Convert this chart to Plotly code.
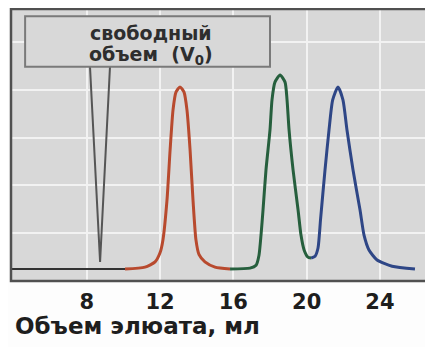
import plotly.graph_objects as go

# ---- data ----
x_ticks = [8, 12, 16, 20, 24]
tick_labels = ["8", "12", "16", "20", "24"]

base_x = [3.9, 10.09]
base_y = [0.25, 0.25]

v0_x = [8.18, 8.73, 9.27]
v0_y = [4.48, 0.40, 4.48]

red_x = [10.09, 11.18, 11.73, 12.00, 12.16, 12.38, 12.55, 12.71, 12.87, 13.09,
         13.31, 13.47, 13.64, 13.80, 13.96, 14.13, 14.45, 15.00, 15.82]
red_y = [0.25, 0.29, 0.40, 0.59, 0.86, 1.69, 2.74, 3.58, 3.95, 4.06,
         3.95, 3.58, 2.74, 1.69, 0.86, 0.55, 0.40, 0.29, 0.25]

green_x = [15.82, 16.91, 17.24, 17.40, 17.51, 17.62, 17.78, 18.00, 18.11, 18.27,
           18.55, 18.82, 18.93, 19.04, 19.26, 19.53, 19.69, 19.86, 20.07, 20.24]
green_y = [0.25, 0.27, 0.33, 0.54, 0.96, 1.49, 2.32, 3.16, 3.79, 4.16,
           4.31, 4.16, 3.79, 3.16, 2.32, 1.49, 0.96, 0.65, 0.50, 0.48]

blue_x = [20.24, 20.46, 20.62, 20.76, 21.00, 21.22, 21.42, 21.71, 21.98,
          22.20, 22.53, 22.91, 23.13, 23.40, 23.84, 24.66, 25.91]
blue_y = [0.48, 0.52, 0.69, 1.30, 2.32, 3.16, 3.79, 4.06, 3.79,
          3.16, 2.32, 1.49, 0.96, 0.65, 0.44, 0.31, 0.25]

label_line1 = "свободный"
label_line2 = "объем  (V<sub>0</sub>)"
x_title = "Объем элюата, мл"

# the page body adds an 8px offset; the figure is sized to fill the window after it
W, H = 425, 339
ML, MR, MT, MB = 3, 5, 1, 66

fig = go.Figure()
fig.add_trace(go.Scatter(x=base_x, y=base_y, mode="lines",
                         line=dict(color="#333333", width=2), hoverinfo="skip"))
fig.add_trace(go.Scatter(x=v0_x, y=v0_y, mode="lines",
                         line=dict(color="#555555", width=2), hoverinfo="skip"))
for xs, ys, col in [(red_x, red_y, "#b84a2e"), (green_x, green_y, "#265f3d"),
                    (blue_x, blue_y, "#2e4686")]:
    fig.add_trace(go.Scatter(x=xs, y=ys, mode="lines",
                             line=dict(color=col, width=3, shape="spline",
                                       smoothing=0.6)))

# label box
fig.add_shape(type="rect", xref="x", yref="y", x0=4.64, x1=18.0, y0=4.48, y1=5.54,
              line=dict(color="#7a7a7a", width=2), fillcolor="#d8d8d8", layer="above")
lab_font = dict(family="DejaVu Sans", size=19, color="#2e2e2e", weight="bold")
fig.add_annotation(x=11.5, y=5.19, xref="x", yref="y", text=label_line1,
                   showarrow=False, font=lab_font)
fig.add_annotation(x=11.5, y=4.71, xref="x", yref="y", text=label_line2,
                   showarrow=False, font=lab_font)

# frame
fig.add_shape(type="rect", xref="paper", yref="paper", x0=0, x1=1, y0=0, y1=1,
              line=dict(color="#505050", width=2.5), layer="above")

fig.add_annotation(x=(5 - ML) / (W - ML - MR), y=(H - MB - 318) / (H - MB - MT),
                   xref="paper", yref="paper", text=x_title,
                   showarrow=False, xanchor="left", yanchor="middle",
                   font=dict(family="DejaVu Sans", size=23, color="#1e1e1e",
                             weight="bold"))

fig.update_layout(
    width=W, height=H,
    margin=dict(l=ML, r=MR, t=MT, b=MB, autoexpand=False),
    paper_bgcolor="#fdfdfd", plot_bgcolor="#d8d8d8",
    showlegend=False,
    xaxis=dict(range=[3.87, 26.62], tickvals=x_ticks, ticktext=tick_labels,
               showgrid=True, gridcolor="#f2f2f2", gridwidth=2,
               zeroline=False, ticks="", ticklabelstandoff=6,
               tickfont=dict(family="DejaVu Sans", size=21, color="#1e1e1e",
                             weight="bold")),
    yaxis=dict(range=[0, 5.69], dtick=1, showgrid=True, gridcolor="#f2f2f2",
               gridwidth=2, zeroline=False, showticklabels=False, ticks=""),
)

fig.write_html("out.html")
